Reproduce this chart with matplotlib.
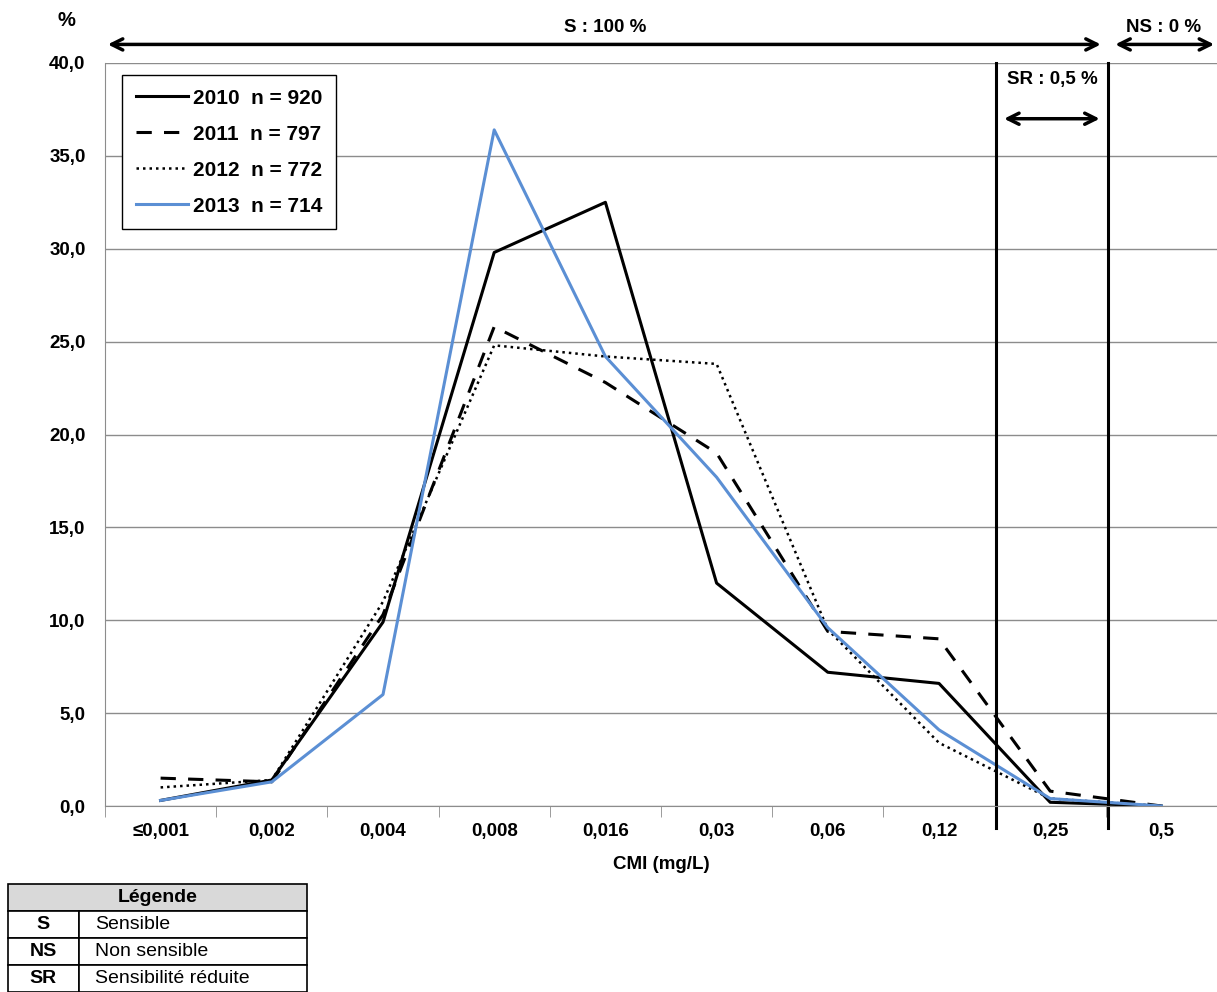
import numpy as np
import matplotlib.pyplot as plt
from matplotlib.ticker import FuncFormatter
from matplotlib.patches import Rectangle

plt.rcParams['font.family'] = ['Liberation Sans', 'DejaVu Sans']

categories = ["≤0,001", "0,002", "0,004", "0,008", "0,016", "0,03", "0,06", "0,12", "0,25", "0,5"]

y2010 = [0.3, 1.4, 9.9, 29.8, 32.5, 12.0, 7.2, 6.6, 0.2, 0.0]
y2011 = [1.5, 1.3, 10.3, 25.8, 22.8, 19.0, 9.4, 9.0, 0.8, 0.0]
y2012 = [1.0, 1.4, 11.0, 24.8, 24.2, 23.8, 9.5, 3.4, 0.4, 0.0]
y2013 = [0.3, 1.3, 6.0, 36.4, 24.2, 17.7, 9.6, 4.1, 0.4, 0.0]

labels = ["2010  n = 920", "2011  n = 797", "2012  n = 772", "2013  n = 714"]

fig = plt.figure(figsize=(12.17, 9.92), dpi=100)
ax = fig.add_axes([105 / 1217, 1 - 806 / 992, 1 - 105 / 1217, (806 - 63) / 992])

x = np.arange(len(categories))
ax.plot(x, y2010, color="black", lw=2.2, label=labels[0])
ax.plot(x, y2011, color="black", lw=2.2, ls=(0, (5, 4)), label=labels[1])
ax.plot(x, y2012, color="black", lw=1.8, ls=(0, (1, 1.6)), label=labels[2])
ax.plot(x, y2013, color="#5b8fd4", lw=2.2, label=labels[3])

ax.set_xlim(-0.5, len(categories) - 0.5)
ax.set_ylim(0, 40)
ax.set_yticks(np.arange(0, 41, 5))
ax.yaxis.set_major_formatter(FuncFormatter(lambda v, p: f"{v:.1f}".replace(".", ",")))
ax.grid(axis="y", color="#8c8c8c", lw=1)
ax.set_axisbelow(True)

ax.set_xticks(x)
ax.set_xticklabels(categories)
ax.set_xticks(np.arange(-0.5, len(categories), 1), minor=True)
ax.tick_params(axis="x", which="major", length=0, pad=12)
ax.tick_params(axis="x", which="minor", length=8, color="#8c8c8c", direction="out")
ax.tick_params(axis="y", length=0, pad=14)
for lab in ax.get_xticklabels() + ax.get_yticklabels():
    lab.set_fontsize(13.5)
    lab.set_fontweight("bold")

for side in ["top", "right"]:
    ax.spines[side].set_visible(False)
ax.spines["left"].set_color("#8c8c8c")
ax.spines["bottom"].set_color("#8c8c8c")

ax.set_xlabel("CMI (mg/L)", fontsize=13.5, fontweight="bold", labelpad=12)

# breakpoints
for bx in [7.51, 8.52]:
    ax.plot([bx, bx], [40, -1.2], color="black", lw=2.2, clip_on=False)

arrow = dict(arrowstyle="<->,head_length=0.8,head_width=0.4", color="black", lw=2.5)
ax.annotate("", xy=(-0.5, 41.0), xytext=(8.48, 41.0), arrowprops=arrow, annotation_clip=False)
ax.annotate("", xy=(8.56, 41.0), xytext=(9.5, 41.0), arrowprops=arrow, annotation_clip=False)
ax.annotate("", xy=(7.56, 37.0), xytext=(8.47, 37.0), arrowprops=arrow, annotation_clip=False)
ax.text(4.0, 41.9, "S : 100 %", ha="center", va="center", fontsize=13.5, fontweight="bold")
ax.text(9.02, 41.9, "NS : 0 %", ha="center", va="center", fontsize=13.5, fontweight="bold")
ax.text(8.02, 39.1, "SR : 0,5 %", ha="center", va="center", fontsize=13.5, fontweight="bold")
fig.text(66 / 1217, 1 - 20 / 992, "%", ha="center", va="center", fontsize=14.5, fontweight="bold")

leg = ax.legend(loc="upper left", bbox_to_anchor=(17 / 1112, 1 - 12 / 743), borderaxespad=0,
                prop={"weight": "bold", "size": 15},
                frameon=True, fancybox=False, edgecolor="black", framealpha=1,
                handlelength=2.5, handletextpad=0.25, labelspacing=0.82, borderpad=0.65)
leg.get_frame().set_linewidth(1)

# legend table
tax = fig.add_axes([0, 0, 320 / 1217, 110 / 992])
tax.set_xlim(0, 320)
tax.set_ylim(110, 0)
tax.axis("off")
rows = [("S", "Sensible"), ("NS", "Non sensible"), ("SR", "Sensibilité réduite")]
top = 2
rh = 27
tax.add_patch(Rectangle((8, top), 299, rh, facecolor="#d9d9d9", edgecolor="black", lw=1.2))
tax.text(158, top + rh / 2, "Légende", ha="center", va="center", fontsize=14, fontweight="bold")
for i, (ab, desc) in enumerate(rows):
    y0 = top + rh * (i + 1)
    tax.add_patch(Rectangle((8, y0), 71, rh, facecolor="white", edgecolor="black", lw=1.2))
    tax.add_patch(Rectangle((79, y0), 228, rh, facecolor="white", edgecolor="black", lw=1.2))
    tax.text(43, y0 + rh / 2, ab, ha="center", va="center", fontsize=14, fontweight="bold")
    tax.text(95, y0 + rh / 2, desc, ha="left", va="center", fontsize=14)

fig.savefig("out.png", dpi=100)
